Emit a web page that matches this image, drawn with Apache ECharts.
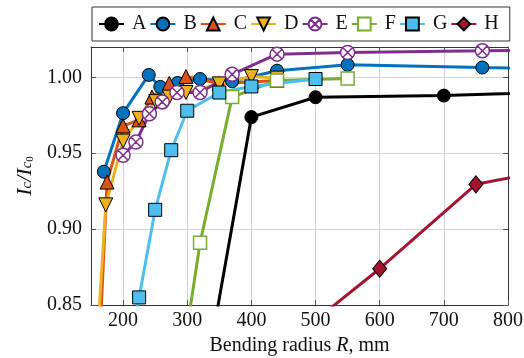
<!DOCTYPE html>
<html>
<head>
<meta charset="utf-8">
<script src="https://cdn.jsdelivr.net/npm/echarts@6/dist/echarts.min.js"></script>
<style>html,body{margin:0;padding:0;background:#fff}#c{width:524px;height:358px}</style>
</head>
<body>
<div id="c"></div>
<script>
// ---- data ----
const seriesNames = ['A', 'B', 'C', 'D', 'E', 'F', 'G', 'H'];
const radiusA = [300, 400, 500, 700, 1000];
const valueA  = [0.735, 0.9738, 0.9869, 0.9880, 0.9920];
const radiusB = [170, 200, 240, 258, 285, 320, 370, 440, 550, 760, 1000];
const valueB  = [0.9378, 0.9764, 1.0016, 0.9937, 0.9963, 0.9989, 0.9974, 1.0044, 1.0083, 1.0065, 1.0050];
const radiusC = [150, 175, 200, 225, 245, 272, 298, 350, 400, 440];
const valueC  = [0.70, 0.931, 0.968, 0.972, 0.987, 0.996, 1.0005, 0.996, 0.997, 0.998];
const radiusD = [150, 173, 200, 225, 251, 272, 298, 350, 400, 440];
const valueD  = [0.76, 0.916, 0.958, 0.973, 0.984, 0.987, 0.990, 0.9957, 1.0005, 0.9995];
const radiusE = [200, 220, 241, 261, 284, 320, 370, 440, 550, 760, 1000];
const valueE  = [0.9487, 0.9574, 0.9760, 0.9838, 0.9900, 0.9900, 1.0020, 1.0153, 1.0164, 1.0175, 1.0190];
const radiusF = [300, 320, 370, 440, 550];
const valueF  = [0.835, 0.891, 0.987, 0.998, 0.9993];
const radiusG = [200, 225, 250, 275, 300, 350, 400, 500];
const valueG  = [0.797, 0.855, 0.9127, 0.952, 0.978, 0.990, 0.994, 0.9989];
const radiusH = [500, 600, 750, 1000];
const valueH  = [0.840, 0.8739, 0.9295, 0.950];
const xTicks = [200, 300, 400, 500, 600, 700, 800];
const yTicks = [0.85, 0.90, 0.95, 1.00];

const FONT = '"Liberation Serif", "DejaVu Serif", serif';
const circleX = 'path://M0,10 A10,10 0 1,1 20,10 A10,10 0 1,1 0,10 Z M2.93,2.93 L17.07,17.07 M17.07,2.93 L2.93,17.07';

const styles = {
  A: {line: '#000000', fill: '#000000', edge: '#000000', symbol: 'circle', size: 13, bw: 1},
  B: {line: '#0072BD', fill: '#0072BD', edge: '#000000', symbol: 'circle', size: 13, bw: 1},
  C: {line: '#D95319', fill: '#D95319', edge: '#000000', symbol: 'triangle', size: 14, bw: 1},
  D: {line: '#EDB120', fill: '#EDB120', edge: '#000000', symbol: 'triangle', size: 14, bw: 1, rot: 180},
  E: {line: '#7E2F8E', fill: '#ffffff', edge: '#7E2F8E', symbol: circleX, size: 14, bw: 1.5},
  F: {line: '#77AC30', fill: '#ffffff', edge: '#77AC30', symbol: 'rect', size: 13, bw: 1.5},
  G: {line: '#4DBEEE', fill: '#4DBEEE', edge: '#000000', symbol: 'rect', size: 13, bw: 1},
  H: {line: '#A2142F', fill: '#A2142F', edge: '#000000', symbol: 'diamond', size: [14, 17], bw: 1}
};
const radii = {A: radiusA, B: radiusB, C: radiusC, D: radiusD, E: radiusE, F: radiusF, G: radiusG, H: radiusH};
const vals = {A: valueA, B: valueB, C: valueC, D: valueD, E: valueE, F: valueF, G: valueG, H: valueH};

const series = seriesNames.map(function (n) {
  const s = styles[n];
  return {
    name: n, type: 'line',
    data: radii[n].map(function (x, i) { return [x, vals[n][i]]; }),
    symbol: s.symbol, symbolSize: s.size, symbolRotate: s.rot || 0,
    showAllSymbol: true, clip: true,
    lineStyle: {color: s.line, width: 3},
    itemStyle: {color: s.fill, borderColor: s.edge, borderWidth: s.bw, opacity: 1},
    emphasis: {disabled: true},
    z: 2
  };
});

const chart = echarts.init(document.getElementById('c'), null, {renderer: 'canvas'});
chart.setOption({
  animation: false,
  backgroundColor: '#ffffff',
  textStyle: {fontFamily: FONT},
  grid: {left: 91, right: 16, top: 47, bottom: 53, outerBoundsMode: 'none'},
  legend: {
    data: seriesNames, left: 92, top: 7,
    itemWidth: 25, itemHeight: 16, itemGap: 3,
    padding: [7, 11, 7, 6],
    borderColor: '#333', borderWidth: 1,
    textStyle: {fontFamily: FONT, fontSize: 20, color: '#111', padding: [0, 0, 0, 3]},
    selectedMode: false
  },
  xAxis: [{
    type: 'value', min: 150, max: 800, position: 'bottom',
    name: '{n|Bending radius }{it|R}{n|, mm}', nameLocation: 'middle', nameGap: 28,
    nameTextStyle: {rich: {
      n: {fontFamily: FONT, fontSize: 20, color: '#111'},
      it: {fontFamily: FONT, fontSize: 20, fontStyle: 'italic', color: '#111'}
    }},
    axisLine: {show: true, onZero: false, lineStyle: {color: '#333', width: 1}},
    axisTick: {show: true, inside: true, length: 5, customValues: xTicks, lineStyle: {color: '#555'}},
    axisLabel: {customValues: xTicks, fontFamily: FONT, fontSize: 20, color: '#111', margin: 6},
    splitLine: {show: true, lineStyle: {color: '#d4d4d4', width: 1}}
  }, {
    type: 'value', min: 150, max: 800, position: 'top',
    axisLine: {show: true, onZero: false, lineStyle: {color: '#333', width: 1}},
    axisTick: {show: true, inside: true, length: 5, customValues: xTicks, lineStyle: {color: '#555'}},
    axisLabel: {show: false}, splitLine: {show: false}
  }],
  yAxis: [{
    type: 'value', min: 0.85, max: 1.02, position: 'left',
    name: '{i|I}{s|c}{i|/I}{s|c}{z|0}', nameLocation: 'middle', nameRotate: 90, nameGap: 54,
    nameTextStyle: {rich: {
      i: {fontFamily: FONT, fontSize: 22, fontStyle: 'italic', color: '#111', lineHeight: 22, verticalAlign: 'top'},
      s: {fontFamily: FONT, fontSize: 15, fontStyle: 'italic', color: '#111', lineHeight: 15, padding: [13, 0, 2, 0], verticalAlign: 'bottom'},
      z: {fontFamily: FONT, fontSize: 11, color: '#111', lineHeight: 11, padding: [21, 0, 0, 0], verticalAlign: 'bottom'}
    }},
    axisLine: {show: true, onZero: false, lineStyle: {color: '#333', width: 1}},
    axisTick: {show: true, inside: true, length: 5, customValues: yTicks, lineStyle: {color: '#555'}},
    axisLabel: {customValues: yTicks, fontFamily: FONT, fontSize: 20, color: '#111', margin: 9,
      formatter: function (v) { return v.toFixed(2); }},
    splitLine: {show: true, lineStyle: {color: '#d4d4d4', width: 1}}
  }, {
    type: 'value', min: 0.85, max: 1.02, position: 'right',
    axisLine: {show: true, onZero: false, lineStyle: {color: '#333', width: 1}},
    axisTick: {show: true, inside: true, length: 5, customValues: yTicks, lineStyle: {color: '#555'}},
    axisLabel: {show: false}, splitLine: {show: false}
  }],
  series: series
});
</script>
</body>
</html>
